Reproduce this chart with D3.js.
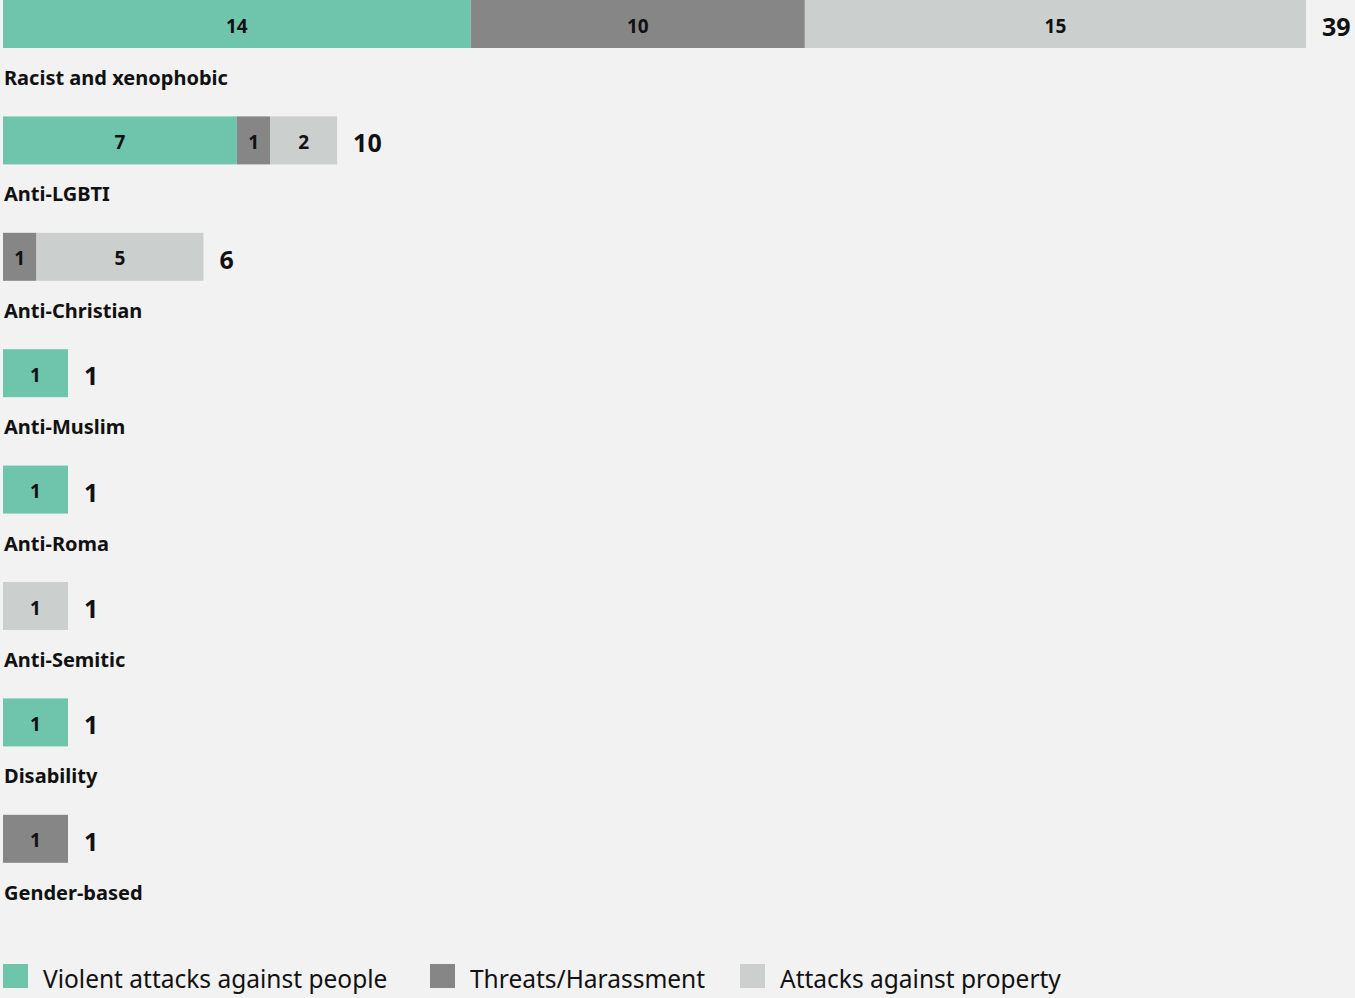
<!DOCTYPE html>
<html>
<head>
<meta charset="utf-8">
<script src="https://cdn.jsdelivr.net/npm/d3@7"></script>
<style>
  html, body { margin: 0; padding: 0; background: #f2f2f2; }
  svg { display: block; font-family: "Noto Sans", "Open Sans", sans-serif; }
</style>
</head>
<body>
<svg id="chart" width="1355" height="998"></svg>
<script>
// Hate-crime incidents by bias motivation, split by incident type
const categories = ["Racist and xenophobic", "Anti-LGBTI", "Anti-Christian", "Anti-Muslim",
                    "Anti-Roma", "Anti-Semitic", "Disability", "Gender-based"];
const seriesNames = ["Violent attacks against people", "Threats/Harassment", "Attacks against property"];
const violent    = [14, 7, 0, 1, 1, 0, 1, 0];
const threats    = [10, 1, 1, 0, 0, 0, 0, 1];
const property   = [15, 2, 5, 0, 0, 1, 0, 0];
const colors = ["#6fc5ac", "#868686", "#cbcfce"];

const svg = d3.select("#chart");
const left = 3;
const barH = 48;
const rowStep = 116.4;
const minBar = 65; // smallest drawn width for a whole bar so its label fits

const rows = categories.map((c, i) => {
  const vals = [violent[i], threats[i], property[i]];
  return { name: c, vals, total: d3.sum(vals) };
});

const x = d3.scaleLinear()
  .domain([0, d3.max(rows, r => r.total)])
  .range([left, 1306]);

const y = d3.scaleBand()
  .domain(categories)
  .range([0, rowStep * categories.length])
  .paddingInner(0)
  .paddingOuter(0);

const g = svg.selectAll("g.row")
  .data(rows)
  .join("g")
  .attr("class", "row")
  .attr("transform", d => `translate(0,${y(d.name)})`);

g.each(function (d) {
  const row = d3.select(this);
  const full = x(d.total) - left;
  const k = full < minBar ? minBar / full : 1;
  let acc = 0;
  const segs = [];
  d.vals.forEach((v, j) => {
    if (v > 0) {
      const x0 = left + (x(acc) - left) * k;
      const x1 = left + (x(acc + v) - left) * k;
      segs.push({ v, j, x0, x1 });
    }
    acc += v;
  });

  row.selectAll("rect.seg")
    .data(segs)
    .join("rect")
    .attr("class", "seg")
    .attr("x", s => s.x0)
    .attr("y", 0)
    .attr("width", s => s.x1 - s.x0)
    .attr("height", barH)
    .attr("fill", s => colors[s.j]);

  row.selectAll("text.seg-label")
    .data(segs)
    .join("text")
    .attr("class", "seg-label")
    .attr("x", s => (s.x0 + s.x1) / 2)
    .attr("y", barH / 2 + 8.5)
    .attr("text-anchor", "middle")
    .attr("font-size", 19)
    .attr("font-weight", 700)
    .attr("fill", "#111")
    .text(s => s.v);

  const end = segs[segs.length - 1].x1;
  row.append("text")
    .attr("x", end + 16)
    .attr("y", barH / 2 + 12)
    .attr("font-size", 25)
    .attr("font-weight", 700)
    .attr("fill", "#111")
    .text(d.total);

  row.append("text")
    .attr("x", left + 1)
    .attr("y", 85)
    .attr("font-size", 20)
    .attr("font-weight", 700)
    .attr("fill", "#111")
    .text(d.name);
});

// Legend
const legendX = [3, 430, 740];
const lg = svg.append("g").attr("transform", "translate(0,964)");
const items = lg.selectAll("g.item")
  .data(seriesNames)
  .join("g")
  .attr("class", "item")
  .attr("transform", (d, i) => `translate(${legendX[i]},0)`);
items.append("rect")
  .attr("width", 25)
  .attr("height", 24)
  .attr("fill", (d, i) => colors[i]);
items.append("text")
  .attr("x", 40)
  .attr("y", 24)
  .attr("font-size", 24.5)
  .attr("fill", "#111")
  .text(d => d);
</script>
</body>
</html>
